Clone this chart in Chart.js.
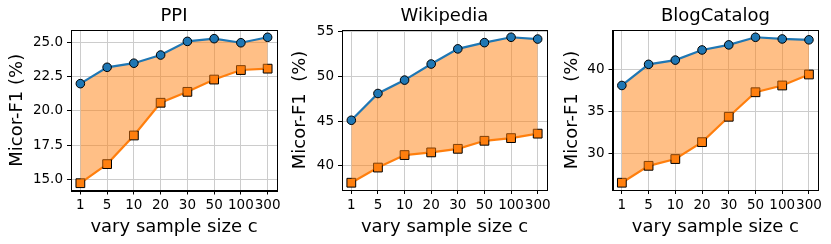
<!DOCTYPE html>
<html><head><meta charset="utf-8">
<script src="https://cdn.jsdelivr.net/npm/chart.js@4.4.1/dist/chart.umd.min.js"></script>
<style>
body{margin:0;background:#fff;width:831px;height:244px;position:relative;overflow:hidden}
canvas{position:absolute;top:0}
</style></head><body>
<canvas id="c1" width="290" height="244" style="left:0px"></canvas>
<canvas id="c2" width="280" height="244" style="left:280px"></canvas>
<canvas id="c3" width="271" height="244" style="left:560px"></canvas>
<script>
// ---- data ----
const xLabels = ["1","5","10","20","30","50","100","300"];
const titles = ["PPI","Wikipedia","BlogCatalog"];
const yTitles = ["Micor-F1 (%)","Micor-F1  (%)","Micor-F1  (%)"];

const ppiUpper  = [22.0, 23.2, 23.5, 24.1, 25.1, 25.3, 25.0, 25.4];
const ppiLower  = [14.7, 16.1, 18.2, 20.6, 21.4, 22.3, 23.0, 23.1];
const wikiUpper = [45.1, 48.1, 49.6, 51.4, 53.1, 53.8, 54.4, 54.2];
const wikiLower = [38.1, 39.8, 41.2, 41.5, 41.9, 42.8, 43.1, 43.6];
const blogUpper = [38.1, 40.6, 41.1, 42.3, 42.9, 43.8, 43.6, 43.5];
const blogLower = [26.6, 28.6, 29.4, 31.4, 34.4, 37.3, 38.1, 39.4];

const ppiTicks  = [15, 17.5, 20, 22.5, 25];
const wikiTicks = [40, 45, 50, 55];
const blogTicks = [30, 35, 40];

// ---- style / layout ----
const FONT = "'DejaVu Sans', sans-serif";
const BLUE = "#1f77b4", ORANGE = "#ff7f0e";
const panels = [
  {id:"c1", upper:ppiUpper,  lower:ppiLower,  ticks:ppiTicks,  dec:1, yW:71,   yPad:6.7, rp:13,   xH:53.5},
  {id:"c2", upper:wikiUpper, lower:wikiLower, ticks:wikiTicks, dec:0, yW:62,   yPad:10,  rp:13,   xH:54},
  {id:"c3", upper:blogUpper, lower:blogLower, ticks:blogTicks, dec:0, yW:52.5, yPad:2,   rp:12.7, xH:54}
];

const framePlugin = {
  id: "frame",
  beforeDatasetsDraw(chart) {
    const a = chart.chartArea, ctx = chart.ctx;
    ctx.save();
    ctx.strokeStyle = "#000";
    ctx.lineWidth = 1;
    ctx.strokeRect(Math.round(a.left)+0.5, Math.round(a.top)+0.5,
                   Math.round(a.right)-Math.round(a.left), Math.round(a.bottom)-Math.round(a.top));
    ctx.restore();
  }
};

panels.forEach((p, k) => {
  const all = p.upper.concat(p.lower);
  const mn = Math.min(...all), mx = Math.max(...all), m = (mx - mn) * 0.05;
  const toPts = arr => arr.map((v, i) => ({x: i, y: v}));
  new Chart(document.getElementById(p.id), {
    type: "line",
    data: {
      datasets: [
        {data: toPts(p.upper), borderColor: BLUE, borderWidth: 2.2, tension: 0,
         pointStyle: "circle", pointRadius: 4.3, pointBackgroundColor: BLUE,
         pointBorderColor: "#000", pointBorderWidth: 1,
         fill: "+1", backgroundColor: "rgba(255,127,14,0.5)"},
        {data: toPts(p.lower), borderColor: ORANGE, borderWidth: 2.2, tension: 0,
         pointStyle: "rect", pointRadius: 6.2, pointBackgroundColor: ORANGE,
         pointBorderColor: "#000", pointBorderWidth: 1, fill: false}
      ]
    },
    options: {
      responsive: false, animation: false,
      layout: {autoPadding: false, padding: {left: 0, right: p.rp, top: 0, bottom: 0}},
      plugins: {
        legend: {display: false}, tooltip: {enabled: false},
        title: {display: true, fullSize: false, text: titles[k], color: "#000",
                font: {family: FONT, size: 18, weight: "normal"},
                padding: {top: 5.5, bottom: 2.9}}
      },
      scales: {
        x: {
          type: "linear", min: -0.35, max: 7.35,
          grid: {color: "#cccccc", lineWidth: 1, tickColor: "#000", tickLength: 4, drawTicks: true},
          border: {color: "#000", width: 1},
          ticks: {color: "#000", font: {family: FONT, size: 13.5}, padding: 3,
                  maxRotation: 0, autoSkip: false,
                  callback: (v) => xLabels[v]},
          afterBuildTicks: s => { s.ticks = xLabels.map((_, i) => ({value: i})); },
          afterFit: s => { s.height = p.xH; s.paddingLeft = 0; s.paddingRight = 0; },
          title: {display: true, text: "vary sample size c", color: "#000",
                  font: {family: FONT, size: 18}, padding: {top: 0, bottom: 6}}
        },
        y: {
          type: "linear", min: mn - m, max: mx + m,
          grid: {color: "#cccccc", lineWidth: 1, tickColor: "#000", tickLength: 4, drawTicks: true},
          border: {color: "#000", width: 1},
          ticks: {color: "#000", font: {family: FONT, size: 13.5}, padding: 4,
                  callback: (v) => Number(v).toFixed(p.dec)},
          afterBuildTicks: s => { s.ticks = p.ticks.map(v => ({value: v})); },
          afterFit: s => { s.width = p.yW; s.paddingTop = 0; s.paddingBottom = 0; },
          title: {display: true, text: yTitles[k], color: "#000",
                  font: {family: FONT, size: 18}, padding: {top: p.yPad, bottom: 0}}
        }
      }
    },
    plugins: [framePlugin]
  });
});
</script>
</body></html>
